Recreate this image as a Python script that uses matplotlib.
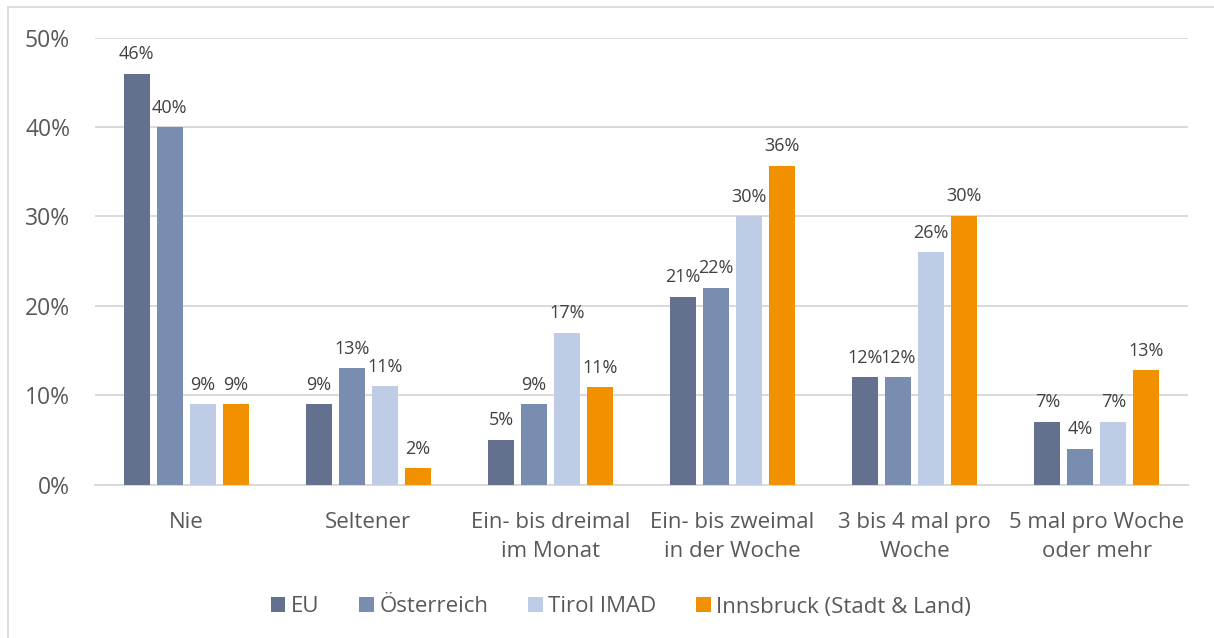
import numpy as np
import matplotlib
matplotlib.use("Agg")
import matplotlib.pyplot as plt
from matplotlib.lines import Line2D
from matplotlib.patches import Patch

plt.rcParams['font.family'] = ['Open Sans', 'DejaVu Sans']

categories = ["Nie", "Seltener", "Ein- bis dreimal\nim Monat", "Ein- bis zweimal\nin der Woche",
              "3 bis 4 mal pro\nWoche", "5 mal pro Woche\noder mehr"]
series_names = ["EU", "Österreich", "Tirol IMAD", "Innsbruck (Stadt & Land)"]
eu = [46, 9, 5, 21, 12, 7]
oesterreich = [40, 13, 9, 22, 12, 4]
tirol = [9, 11, 17, 30, 26, 7]
innsbruck = [9, 1.8, 10.9, 35.7, 30.1, 12.8]
yticks = [0, 10, 20, 30, 40, 50]

colors = ["#63718F", "#788DB0", "#BFCCE6", "#F29100"]
grid_col = "#D9D9D9"
text_col = "#595959"

fig = plt.figure(figsize=(12.14, 6.38), dpi=100)
ax = fig.add_axes([95 / 1214, 1 - 484.5 / 638, (1188 - 95) / 1214, (484.5 - 37.8) / 638])

x = np.arange(len(categories))
step = 0.181
width = 0.143
all_series = [eu, oesterreich, tirol, innsbruck]
for i, (vals, col) in enumerate(zip(all_series, colors)):
    pos = x + (i - 1.5) * step
    bars = ax.bar(pos, vals, width=width, color=col, zorder=3)
    for b, v in zip(bars, vals):
        ax.annotate(f"{v:.0f}%", (b.get_x() + b.get_width() / 2, v),
                    xytext=(0, 10.5), textcoords="offset points",
                    ha="center", va="baseline", fontsize=13, color="#404040")

ax.set_xlim(-0.5, len(categories) - 0.5)
ax.set_ylim(0, 50)
ax.set_yticks(yticks)
ax.set_yticklabels([f"{t}%" for t in yticks])
ax.yaxis.grid(True, color=grid_col, linewidth=1.4, zorder=0)
ax.set_xticks(x)
ax.set_xticklabels(categories, linespacing=1.55)
ax.tick_params(axis="both", length=0, labelsize=16, labelcolor=text_col)
ax.tick_params(axis="y", pad=18, labelsize=16.5)
ax.tick_params(axis="x", pad=19.5)
for s in ["top", "right", "left"]:
    ax.spines[s].set_visible(False)
ax.spines["bottom"].set_color(grid_col)
ax.spines["bottom"].set_linewidth(1.4)
ax.spines["bottom"].set_zorder(2)

handles = [Patch(facecolor=c, edgecolor="none") for c in colors]
fig.legend(handles, series_names, loc="center", bbox_to_anchor=(621 / 1214, 1 - 607 / 638),
           ncol=4, frameon=False, fontsize=16, labelcolor=text_col,
           handlelength=0.65, handleheight=0.65, handletextpad=0.25, columnspacing=1.8)

# chart frame (cropped screenshot: only left and top edges visible)
fig.add_artist(Line2D([8 / 1214, 8 / 1214], [0, 1 - 7 / 638], color=grid_col, lw=1.2))
fig.add_artist(Line2D([8 / 1214, 1], [1 - 7 / 638, 1 - 7 / 638], color=grid_col, lw=1.2))

fig.savefig("out.png", dpi=100)
